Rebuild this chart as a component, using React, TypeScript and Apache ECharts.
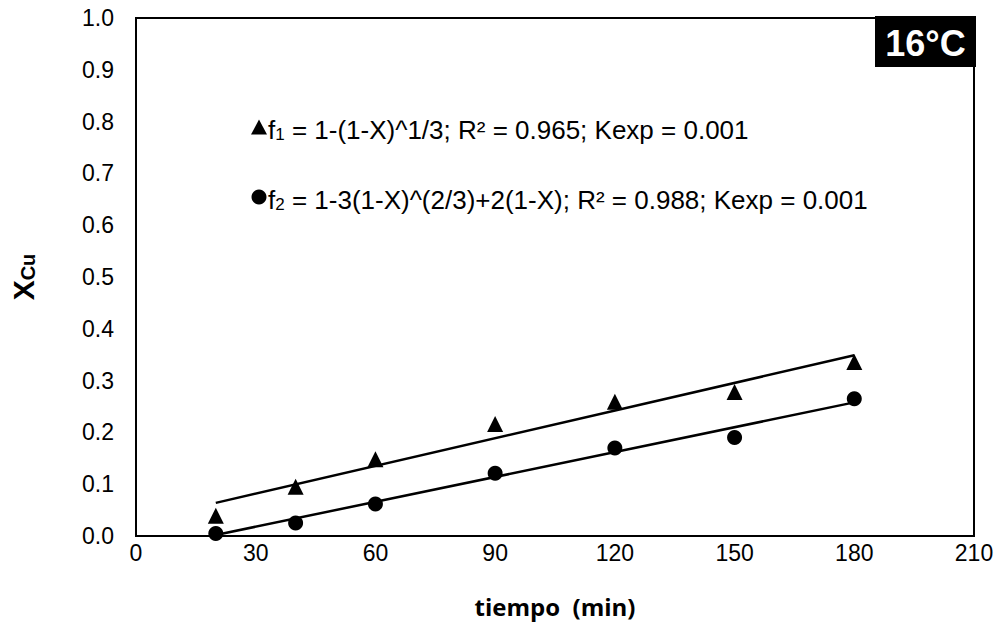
import React, { useEffect, useRef } from "react";
import * as echarts from "echarts";

const xF1 = [20, 40, 60, 90, 120, 150, 180];
const yF1 = [0.039, 0.095, 0.148, 0.216, 0.259, 0.278, 0.336];
const xF2 = [20, 40, 60, 90, 120, 150, 180];
const yF2 = [0.005, 0.025, 0.062, 0.121, 0.17, 0.19, 0.265];
const trend1X = [20, 180];
const trend1Y = [0.064, 0.349];
const trend2X = [20, 180];
const trend2Y = [0.002, 0.258];
const xTicks = [0, 30, 60, 90, 120, 150, 180, 210];
const yTicks = [0, 0.1, 0.2, 0.3, 0.4, 0.5, 0.6, 0.7, 0.8, 0.9, 1.0];
const legendF1 = { sub: "1", rest: " = 1-(1-X)^1/3; R² = 0.965; Kexp = 0.001" };
const legendF2 = { sub: "2", rest: " = 1-3(1-X)^(2/3)+2(1-X); R² = 0.988; Kexp = 0.001" };
const tempLabel = "16°C";

const FONT = "'Liberation Sans', Arial, sans-serif";

export default function App() {
  const ref = useRef<HTMLDivElement>(null);
  useEffect(() => {
    if (!ref.current) return;
    const chart = echarts.init(ref.current, null, { renderer: "svg" });
    const zip = (xs: number[], ys: number[]) => xs.map((x, i) => [x, ys[i]]);
    chart.setOption({
      animation: false,
      backgroundColor: "#fff",
      grid: {
        left: 135,
        top: 18,
        right: 28,
        bottom: 103,
        show: true,
        borderColor: "#000",
        borderWidth: 2,
        backgroundColor: "transparent",
      },
      xAxis: {
        type: "value",
        min: xTicks[0],
        max: xTicks[xTicks.length - 1],
        interval: 30,
        axisLine: { show: true, lineStyle: { color: "#000", width: 2 } },
        axisTick: { show: false },
        splitLine: { show: false },
        axisLabel: { color: "#000", fontSize: 23, fontFamily: FONT, margin: 5 },
        name: "tiempo  (min)",
        nameLocation: "middle",
        nameGap: 58,
        nameTextStyle: { color: "#000", fontSize: 24, fontWeight: "bold", fontFamily: "'Open Sans', sans-serif" },
      },
      yAxis: {
        type: "value",
        min: yTicks[0],
        max: yTicks[yTicks.length - 1],
        interval: 0.1,
        axisLine: { show: true, lineStyle: { color: "#000", width: 2 } },
        axisTick: { show: false },
        splitLine: { show: false },
        axisLabel: {
          color: "#000",
          fontSize: 23,
          fontFamily: FONT,
          margin: 22,
          formatter: (v: number) => v.toFixed(1),
        },
        name: "{a|X}{b|Cu}",
        nameLocation: "middle",
        nameRotate: 90,
        nameGap: 98,
        nameTextStyle: {
          rich: {
            a: { fontSize: 30, fontWeight: "bold", fontFamily: FONT, color: "#000", verticalAlign: "bottom", lineHeight: 36 },
            b: { fontSize: 20, fontWeight: "bold", fontFamily: FONT, color: "#000", verticalAlign: "bottom", lineHeight: 26 },
          },
        },
      },
      legend: {
        show: true,
        orient: "vertical",
        left: 246,
        top: 112,
        itemGap: 44,
        itemWidth: 16,
        itemHeight: 15,
        data: [
          { name: "f1", icon: "triangle", itemStyle: { color: "#000", opacity: 1 } },
          { name: "f2", icon: "circle", itemStyle: { color: "#000", opacity: 1 } },
        ],
        formatter: (name: string) => {
          const l = name === "f1" ? legendF1 : legendF2;
          return `{n|f}{s|${l.sub}}{n|${l.rest}}`;
        },
        textStyle: {
          padding: [0, 0, 0, -4],
          rich: {
            n: { fontSize: 26, fontFamily: FONT, color: "#000", lineHeight: 32, verticalAlign: "bottom" },
            s: { fontSize: 17, fontFamily: FONT, color: "#000", lineHeight: 24, verticalAlign: "bottom" },
          },
        },
      },
      series: [
        {
          name: "f1",
          type: "scatter",
          symbol: "triangle",
          symbolSize: 16,
          itemStyle: { color: "#000", opacity: 1 },
          data: zip(xF1, yF1),
          z: 3,
        },
        {
          name: "f2",
          type: "scatter",
          symbol: "circle",
          symbolSize: 15,
          itemStyle: { color: "#000", opacity: 1 },
          data: zip(xF2, yF2),
          z: 3,
        },
        {
          name: "trend1",
          type: "line",
          symbol: "none",
          lineStyle: { color: "#000", width: 2.5 },
          data: zip(trend1X, trend1Y),
          z: 2,
        },
        {
          name: "trend2",
          type: "line",
          symbol: "none",
          lineStyle: { color: "#000", width: 2.5 },
          data: zip(trend2X, trend2Y),
          z: 2,
        },
      ],
      graphic: [
        {
          type: "group",
          right: 26,
          top: 16,
          children: [
            { type: "rect", shape: { x: 0, y: 0, width: 101, height: 51 }, style: { fill: "#000" } },
            {
              type: "text",
              x: 50.5,
              y: 27,
              style: {
                text: tempLabel,
                fill: "#fff",
                font: `bold 36px ${FONT}`,
                align: "center",
                verticalAlign: "middle",
              },
            },
          ],
        },
      ],
    });
    return () => chart.dispose();
  }, []);
  return <div ref={ref} style={{ width: 1002, height: 639, position: "absolute", left: 0, top: 0 }} />;
}
